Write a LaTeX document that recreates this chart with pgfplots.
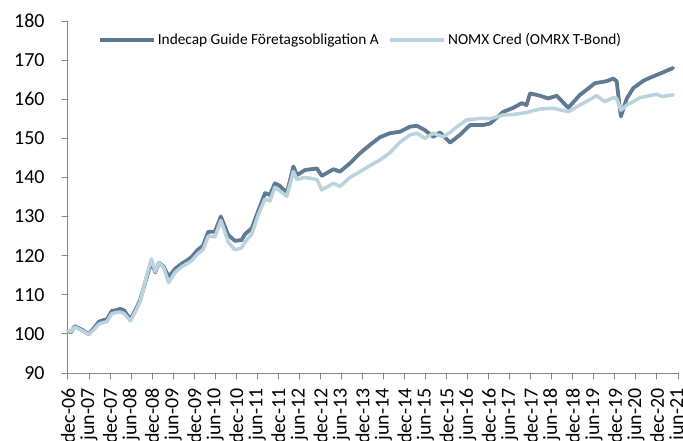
\documentclass[border=0pt]{standalone}
\usepackage{pgfplots}
\pgfplotsset{compat=1.18}
\usepackage{fontspec}
\setmainfont{Carlito}
\definecolor{darkline}{HTML}{5F7A94}
\definecolor{lightline}{HTML}{B9D3DF}
\definecolor{axisgray}{HTML}{868686}
\begin{document}
\begin{tikzpicture}
\begin{axis}[
  at={(0,0)}, anchor=south west,
  scale only axis, width=610bp, height=352bp,
  xmin=0, xmax=174, ymin=90, ymax=180,
  axis x line*=bottom, axis y line*=left,
  axis line style={draw=axisgray, line width=1bp, -},
  tick align=outside, major tick length=6bp,
  tick style={draw=axisgray, line width=1bp},
  xtick={0,6,...,174},
  xticklabels={dec-06,jun-07,dec-07,jun-08,dec-08,jun-09,dec-09,jun-10,dec-10,jun-11,dec-11,jun-12,dec-12,jun-13,dec-13,jun-14,dec-14,jun-15,dec-15,jun-16,dec-16,jun-17,dec-17,jun-18,dec-18,jun-19,dec-19,jun-20,dec-20,jun-21},
  ytick={90,100,...,180},
  /pgf/number format/assume math mode=true,
  ticklabel style={font=\fontsize{20}{24}\selectfont, text=black},
  x tick label style={rotate=90, anchor=east},
  xticklabel shift=6bp,
  yticklabel shift=14bp,
  legend columns=2,
  legend style={at={(axis description cs:0.049,0.946)}, anchor=west, draw=none, fill=none, inner sep=0pt,
    font=\fontsize{15.4}{18}\selectfont, /tikz/every even column/.append style={column sep=8bp}},
  legend image code/.code={\draw[#1] (0bp,0bp) -- (54bp,0bp);},
  clip=false,
  line join=round, line cap=round,
]
\addplot[darkline, line width=3.8bp] coordinates {
(0,100.8)(0.9,100.4)(1.9,102.0)(3,101.5)(4.5,100.8)(5.9,99.9)(7.3,101.4)(8.8,103.1)(10,103.5)(11.1,103.7)
(12.5,105.9)(13.5,106.0)(14.9,106.4)(16,106.0)(17.8,103.7)(19.3,106.2)(20.6,108.7)(21.5,111.5)(22.5,114.6)
(23.8,118.5)(24.9,115.7)(25.9,118.2)(27.3,117.2)(28.7,114.6)(30.6,116.7)(32.5,118.0)(34,118.8)(35.3,119.7)
(37,121.5)(38.5,122.5)(40,126.1)(41.9,126.1)(43.6,130.0)(45.7,125.3)(47.6,123.8)(49.5,124.0)(50.5,125.5)
(52.4,127.0)(54.5,132)(56.2,136.0)(57.6,135.5)(59,138.5)(60.5,137.8)(62.4,136.0)(64.3,142.8)(65.3,140.6)
(67.6,141.9)(71,142.3)(72.4,140.4)(75.7,142.1)(77.6,141.5)(80.4,143.6)(83.3,146.2)(86.1,148.3)(89,150.3)
(91.8,151.3)(94.7,151.7)(97.6,153.0)(99.5,153.2)(101.8,152.1)(104.2,150.4)(106.1,151.5)(109,148.9)
(111.8,150.9)(114.7,153.4)(118.4,153.4)(120.4,153.8)(124.2,156.8)(127,157.8)(129.4,159.0)(130.8,158.5)
(131.8,161.5)(134.6,160.9)(137,160.2)(139.4,160.9)(142.7,157.8)(146,161.1)(147.9,162.4)(150.3,164.1)
(153.6,164.6)(155.5,165.3)(156.5,164.6)(157.7,155.6)(159.4,160.2)(161.2,162.8)(164.1,164.7)(166,165.5)
(169.8,166.9)(172.6,168.0)
};
\addlegendentry{Indecap Guide Företagsobligation A}
\addplot[lightline, line width=3.5bp] coordinates {
(0,100.8)(0.9,100.6)(1.9,101.8)(3,101.3)(4.5,100.6)(5.9,99.8)(7.3,101)(8.8,102.5)(10,102.9)(11.1,103.1)
(12.5,105.2)(13.5,105.4)(14.9,105.6)(16,105.2)(17.8,103.3)(19.3,105.8)(20.6,108.3)(21.5,111.5)(22.5,115.0)
(23.8,119.2)(24.9,115.9)(25.9,118.2)(27.3,117.0)(28.7,113.1)(30.6,115.8)(32.5,117.2)(34,118)(35.3,118.7)
(37,120.5)(38.5,121.5)(40,125.0)(41.9,124.8)(43.6,129.0)(45.7,123.5)(47.6,121.5)(49.5,122.0)(50.5,123.5)
(52.4,125.5)(54.5,131)(56.2,134.5)(57.6,134.0)(59,137.5)(60.5,136.5)(62.4,135.2)(64.3,141.5)(65.3,139.5)
(67.6,140.0)(71,139.5)(72.4,136.8)(75.7,138.5)(77.6,137.7)(80.4,140.0)(83.3,141.5)(86.1,143.0)(89,144.5)
(91.8,146.3)(94.7,149.0)(97.6,150.9)(99.5,151.3)(101.8,150.0)(104.2,151.3)(107,150.4)(109,151.5)
(111,153.0)(113.7,154.7)(117.5,155.1)(120.4,155.0)(124.2,156.0)(127,156.1)(130.8,156.6)(134.6,157.5)
(138.4,157.7)(142.7,156.8)(146,158.5)(150.8,160.9)(153.1,159.4)(155.5,160.4)(156.5,160.2)(157.7,157.2)
(159.4,158.5)(163.2,160.4)(168,161.3)(169.4,160.7)(172.6,161.1)
};
\addlegendentry{NOMX Cred (OMRX T-Bond)}
\end{axis}
\pgfresetboundingbox
\path[use as bounding box] (-68bp,-68bp) rectangle (615bp,373bp);
\end{tikzpicture}
\end{document}
